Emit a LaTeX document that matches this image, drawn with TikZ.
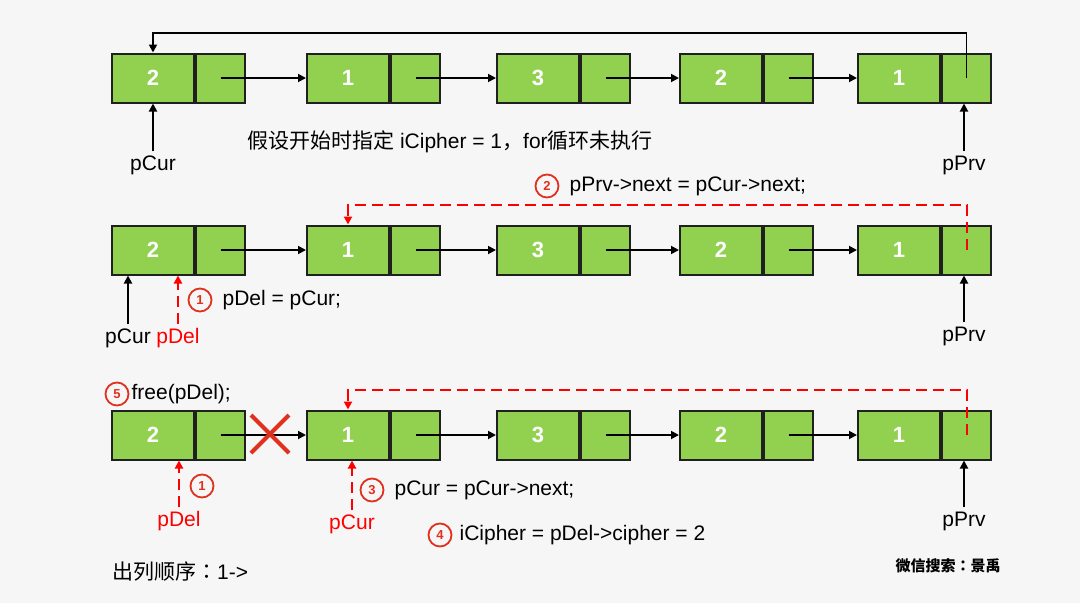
\documentclass[tikz,border=0pt]{standalone}
\usepackage{fontspec}
\setmainfont{Liberation Sans}
\newfontfamily\cjk{Noto Sans CJK SC}
\newfontfamily\cjkjp{Noto Sans CJK JP}
\usetikzlibrary{positioning,arrows.meta}
\definecolor{listgreen}{HTML}{92D050}
\definecolor{bggray}{HTML}{F6F6F6}
\definecolor{markred}{HTML}{E0301E}
\definecolor{edgegray}{HTML}{202020}
\tikzset{
  datbox/.style={draw=edgegray, line width=2pt, fill=listgreen, minimum width=82pt,
    minimum height=49pt, inner sep=0pt, text=white, anchor=west,
    font=\fontsize{22}{26}\selectfont\bfseries},
  ptrbox/.style={datbox, minimum width=49pt},
  link/.style={line width=1.8pt, -{Triangle[length=8pt,width=8pt]}},
  redlink/.style={red, line width=2pt, dash pattern=on 11pt off 6pt,
    -{Triangle[length=8pt,width=8pt]}},
  lbl/.style={font=\fontsize{21}{25}\selectfont, inner sep=4pt},
  stepmark/.style={circle, draw=markred, line width=1.8pt, minimum size=23pt,
    inner sep=0pt, text=markred, font=\fontsize{13}{13}\selectfont\bfseries},
}
\begin{document}
\begin{tikzpicture}[x=1pt,y=-1pt]
\fill[bggray] (0,0) rectangle (1080,603);
\useasboundingbox (0,0) rectangle (1080,603);

% the list, three times
\foreach \r/\y in {1/78,2/250,3/435}
  \foreach \c/\x/\v in {1/111/2,2/306/1,3/496/3,4/679/2,5/857/1} {
    \node[datbox] (d\r\c) at (\x,\y) {\v};
    \node[ptrbox] (p\r\c) at (d\r\c.east) {};
  }
\foreach \r in {1,2,3}
  \foreach \c/\nxt in {1/2,2/3,3/4,4/5}
    \draw[link] (p\r\c.center) -- (d\r\nxt.west);

% row 1
\coordinate (loop) at (0,33);
\draw[link] (p15.center) -- (p15.center |- loop) -| (d11.north);
\node[lbl] (cur1) at (153,165) {pCur};
\node[lbl] (prv1) at (964,165) {pPrv};
\draw[link] (cur1.north) -- (cur1.north |- d11.south);
\draw[link] (prv1.north) -- (prv1.north |- p15.south);
\node[lbl, anchor=west] (note1) at (243,142) {{\cjk 假设开始时指定} iCipher = 1{\cjk ，}for{\cjk 循环未执行}};

% row 2
\node[stepmark] (s2) at (547,186) {2};
\node[lbl, right=6pt of s2] (t2) {pPrv->next = pCur->next;};
\coordinate (jump2) at (0,205);
\draw[redlink] (p25.center) -- (p25.center |- jump2) -| (d22.north);
\node[lbl] (cur2) at (128,338) {pCur};
\node[lbl, text=red] (del2) at (178,338) {pDel};
\node[lbl] (prv2) at (964,336) {pPrv};
\draw[link] (cur2.north) -- (cur2.north |- d21.south);
\draw[redlink] (del2.north) -- (del2.north |- d21.south);
\draw[link] (prv2.north) -- (prv2.north |- p25.south);
\node[stepmark] (s1) at (200,300) {1};
\node[lbl, right=6pt of s1] (t1) {pDel = pCur;};

% row 3
\node[stepmark] (s5) at (117,394) {5};
\node[lbl, right=-2pt of s5] (t5) {free(pDel);};
\coordinate (jump3) at (0,390);
\draw[redlink] (p35.center) -- (p35.center |- jump3) -| (d32.north);
\draw[markred, line width=4pt] (251,415) -- (289,453) (251,453) -- (289,415);
\node[lbl, text=red] (del3) at (179,521) {pDel};
\node[lbl, text=red] (cur3) at (352,524) {pCur};
\node[lbl] (prv3) at (964,521) {pPrv};
\draw[redlink] (del3.north) -- (del3.north |- d31.south);
\draw[redlink] (cur3.north) -- (cur3.north |- d32.south);
\draw[link] (prv3.north) -- (prv3.north |- p35.south);
\node[stepmark] (s1b) at (202,486) {1};
\node[stepmark] (s3) at (372,490) {3};
\node[lbl, right=6pt of s3] (t3) {pCur = pCur->next;};
\node[stepmark] (s4) at (440,535) {4};
\node[lbl, right=3pt of s4] (t4) {iCipher = pDel->cipher = 2};

\node[lbl, anchor=west] (order) at (108,572) {{\cjk 出列顺序}{\cjkjp ：}1->};
\node[font=\fontsize{15}{18}\selectfont\cjk\bfseries] (mark) at (948,566) {微信搜索{\cjkjp\bfseries ：}景禹};
\end{tikzpicture}
\end{document}
